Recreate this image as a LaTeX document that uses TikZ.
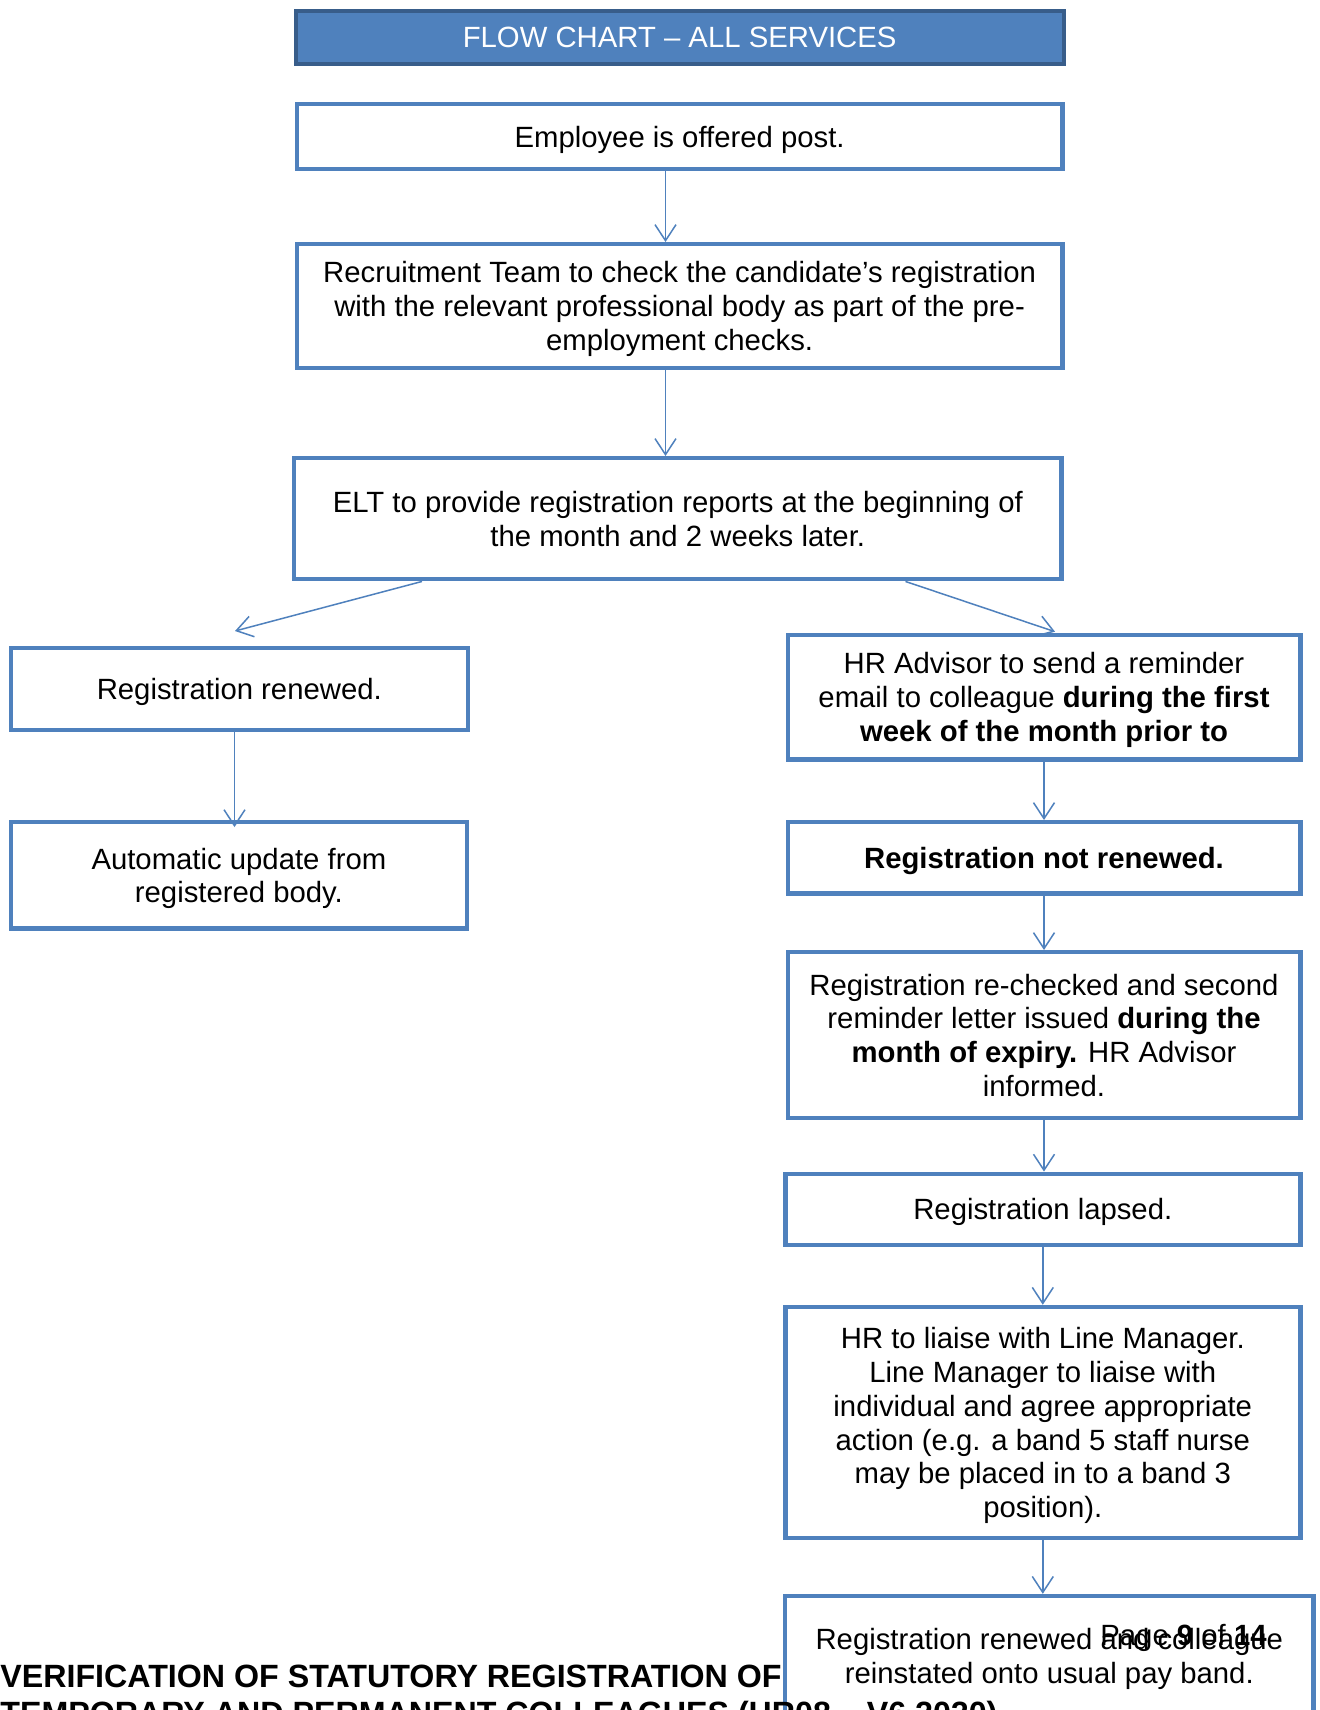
\documentclass[tikz,border=0pt]{standalone}
\usepackage{fontspec}
\setmainfont{Liberation Sans}
\usetikzlibrary{arrows.meta}
\definecolor{boxblue}{HTML}{4F81BD}
\definecolor{titleedge}{HTML}{385D8A}
\tikzset{
  flowbox/.style={draw=boxblue, line width=2.2pt, fill=white, align=center, inner sep=0pt,
    text depth=0pt, font=\fontsize{14.65}{16.9}\selectfont},
  titlebox/.style={draw=titleedge, line width=2pt, fill=boxblue, text=white, align=center, inner sep=0pt,
    text depth=0pt, font=\fontsize{14.65}{16.9}\selectfont},
  arr/.style={draw=boxblue, line width=0.75pt, -{Straight Barb[length=8pt,width=10.5pt,line width=0.75pt]}},
  foottext/.style={anchor=base west, inner sep=0pt, font=\fontsize{16.1}{18.5}\selectfont\bfseries},
}
\begin{document}
\begin{tikzpicture}[x=0.5pt,y=-0.5pt]
\useasboundingbox (0,0) rectangle (1320,1710);
\clip (0,0) rectangle (1320,1710);
\fill[white] (0,0) rectangle (1320,1710);

\node[titlebox, minimum width=384pt, minimum height=26.4pt] (title) at (679.6,37.1) {FLOW CHART – ALL SERVICES};

\node[flowbox, minimum width=382.9pt, minimum height=32.7pt] (emp) at (679.6,136.4) {Employee is offered post.};

\node[flowbox, minimum width=382.9pt, minimum height=61.8pt] (rec) at (679.6,306) {Recruitment Team to check the candidate’s registration\\with the relevant professional body as part of the pre-\\employment checks.};

\node[flowbox, minimum width=383.6pt, minimum height=60.55pt] (elt) at (677.8,518.7) {ELT to provide registration reports at the beginning of\\the month and 2 weeks later.};

\node[flowbox, minimum width=228.45pt, minimum height=40.8pt] (ren) at (239.3,689) {Registration renewed.};

\node[flowbox, minimum width=228pt, minimum height=53.05pt] (auto) at (238.9,875.3) {Automatic update from\\registered body.};

\node[flowbox, minimum width=256.3pt, minimum height=62.2pt] (hra) at (1044,697.1) {HR Advisor to send a reminder\\email to colleague \textbf{during the first}\\\textbf{week of the month prior to}};

\node[flowbox, minimum width=256.3pt, minimum height=35.6pt] (notren) at (1044,857.8) {\textbf{Registration not renewed.}};

\node[flowbox, minimum width=256.3pt, minimum height=83pt] (rechk) at (1044,1035.2) {Registration re-checked and second\\reminder letter issued \textbf{during the}\\\textbf{month of expiry.} HR Advisor\\informed.};

\node[flowbox, minimum width=257.5pt, minimum height=35.5pt] (lapsed) at (1042.8,1209.3) {Registration lapsed.};

\node[flowbox, minimum width=257.5pt, minimum height=115.65pt] (liaise) at (1042.8,1422.6) {HR to liaise with Line Manager.\\Line Manager to liaise with\\individual and agree appropriate\\action (e.g. a band 5 staff nurse\\may be placed in to a band 3\\position).};

\node[flowbox, minimum width=264.1pt, minimum height=60pt] (last) at (1049.3,1656) {Registration renewed and colleague\\reinstated onto usual pay band.};

% connectors
\coordinate (colx) at (665.5,0);
\draw[arr] (emp.south -| colx) -- (rec.north -| colx);
\draw[arr] (rec.south -| colx) -- (elt.north -| colx);
\draw[arr] ([xshift=-127.9pt]elt.south) -- ([xshift=-2.15pt,yshift=7.5pt]ren.north);
\draw[arr] ([xshift=113.85pt]elt.south) -- ([xshift=5.5pt,yshift=0.5pt]hra.north);
\draw[arr] ([xshift=-2.4pt]ren.south) -- ([xshift=-2.2pt,yshift=-3.5pt]auto.north);
\draw[arr] (hra.south) -- (notren.north);
\draw[arr] (notren.south) -- (rechk.north);
\draw[arr] (rechk.south) -- (rechk.south |- lapsed.north);
\draw[arr] (lapsed.south) -- (liaise.north);
\draw[arr] (liaise.south) -- (liaise.south |- last.north);

% footer
\node[foottext] (foot1) at (0,1687) {VERIFICATION OF STATUTORY REGISTRATION OF};
\node[foottext] (foot2) at (0,1724) {TEMPORARY AND PERMANENT COLLEAGUES (HR08 – V6 2020)};
\node[anchor=base west, inner sep=0pt, font=\fontsize{14.65}{16.9}\selectfont] (page) at (1100,1645) {Page \textbf{9} of \textbf{14}};
\end{tikzpicture}
\end{document}
